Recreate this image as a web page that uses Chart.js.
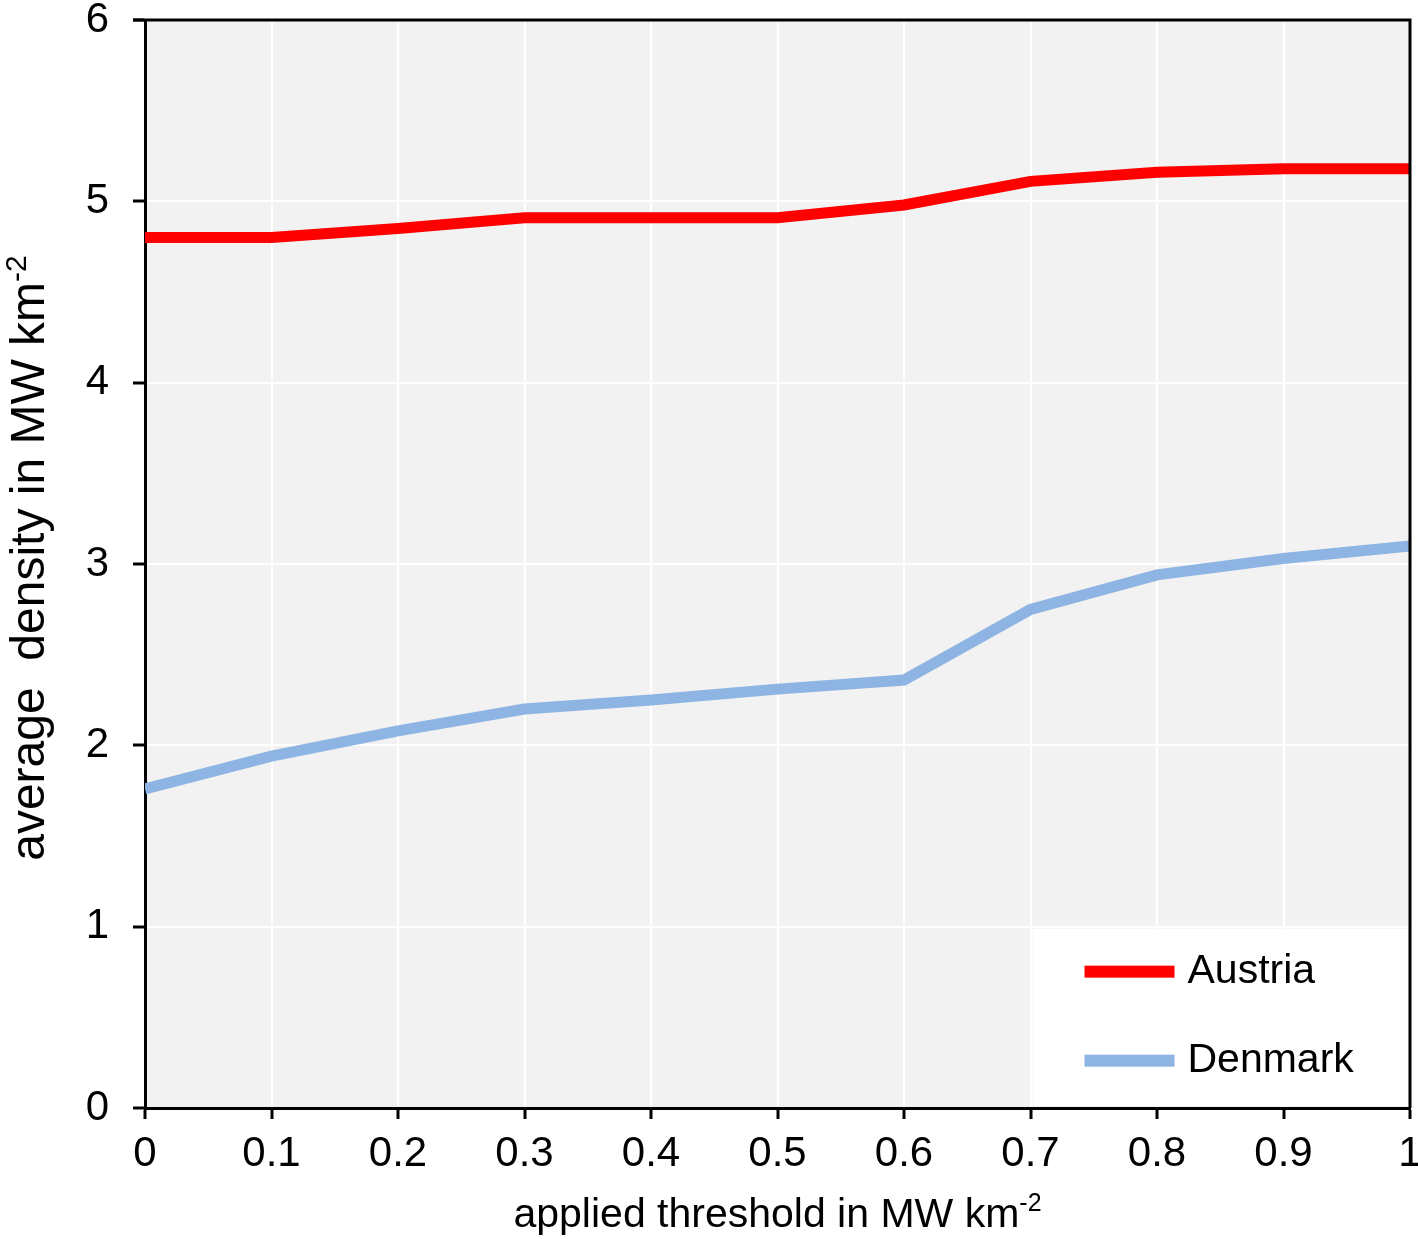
<!DOCTYPE html>
<html>
<head>
<meta charset="utf-8">
<script src="https://cdn.jsdelivr.net/npm/chart.js@4.4.0/dist/chart.umd.min.js"></script>
<style>
  html, body { margin: 0; padding: 0; background: #fff; }
  #wrap { width: 1418px; height: 1239px; }
</style>
</head>
<body>
<div id="wrap"><canvas id="linechart"></canvas></div>
<script>
// values
var thresholds = [0, 0.1, 0.2, 0.3, 0.4, 0.5, 0.6, 0.7, 0.8, 0.9, 1];
var austria = [4.80, 4.80, 4.85, 4.91, 4.91, 4.91, 4.98, 5.11, 5.16, 5.18, 5.18];
var denmark = [1.76, 1.94, 2.08, 2.20, 2.25, 2.31, 2.36, 2.75, 2.94, 3.03, 3.10];
var xTickLabels = ['0', '0.1', '0.2', '0.3', '0.4', '0.5', '0.6', '0.7', '0.8', '0.9', '1'];
var yTickLabels = ['0', '1', '2', '3', '4', '5', '6'];

var FONT = '"Liberation Sans", Arial, sans-serif';

function pts(vals) {
    return vals.map(function (v, i) { return { x: thresholds[i], y: v }; });
}

// draws text with a raised "-2" after it
function drawSup(ctx, base, sup, x, y, size, align) {
    ctx.font = size + 'px ' + FONT;
    var wb = ctx.measureText(base).width;
    ctx.font = Math.round(size * 0.62) + 'px ' + FONT;
    var ws = ctx.measureText(sup).width;
    var start = align === 'center' ? x - (wb + ws) / 2 : x;
    ctx.textAlign = 'left';
    ctx.textBaseline = 'alphabetic';
    ctx.font = size + 'px ' + FONT;
    ctx.fillText(base, start, y);
    ctx.font = Math.round(size * 0.62) + 'px ' + FONT;
    ctx.fillText(sup, start + wb, y - size * 0.38);
}

var plotDeco = {
    id: 'plotDeco',
    beforeDraw: function (chart) {
        var a = chart.chartArea, ctx = chart.ctx;
        ctx.save();
        ctx.fillStyle = '#f2f2f2';
        ctx.fillRect(a.left, a.top, a.right - a.left, a.bottom - a.top);
        ctx.restore();
    },
    afterDatasetsDraw: function (chart) {
        var a = chart.chartArea, ctx = chart.ctx;
        var xs = chart.scales.x, ys = chart.scales.y;
        ctx.save();
        // legend box in lower right corner
        var bx = xs.getPixelForValue(0.7) + 2, by = ys.getPixelForValue(1) + 2;
        ctx.fillStyle = '#ffffff';
        ctx.fillRect(bx, by, a.right - bx - 2, a.bottom - by - 2);
        var rows = [by + 43, by + 132];
        chart.data.datasets.forEach(function (ds, i) {
            ctx.fillStyle = ds.borderColor;
            ctx.fillRect(bx + 52, rows[i] - 6, 90, 12);
            ctx.fillStyle = '#000';
            ctx.font = '41px ' + FONT;
            ctx.textAlign = 'left';
            ctx.textBaseline = 'middle';
            ctx.fillText(ds.label, bx + 155, rows[i]);
        });
        // top and right frame
        ctx.strokeStyle = '#000';
        ctx.lineWidth = 3;
        ctx.beginPath();
        ctx.moveTo(a.left - 12, a.top);
        ctx.lineTo(a.right, a.top);
        ctx.lineTo(a.right, a.bottom);
        ctx.stroke();
        // axis titles
        ctx.fillStyle = '#000';
        drawSup(ctx, 'applied threshold in MW km', '-2', (a.left + a.right) / 2, 1227, 41, 'center');
        ctx.translate(44, 558);
        ctx.rotate(-Math.PI / 2);
        drawSup(ctx, 'average  density in MW km', '-2', 0, 0, 48, 'center');
        ctx.restore();
    }
};

var ctx = document.getElementById('linechart').getContext('2d');
var myChart = new Chart(ctx, {
    type: 'line',
    data: {
        datasets: [{
            label: 'Austria',
            data: pts(austria),
            borderColor: '#ff0000',
            borderWidth: 11,
            pointRadius: 0,
            tension: 0
        }, {
            label: 'Denmark',
            data: pts(denmark),
            borderColor: '#8db4e2',
            borderWidth: 11,
            pointRadius: 0,
            tension: 0
        }]
    },
    options: {
        responsive: true,
        maintainAspectRatio: false,
        animation: false,
        events: [],
        layout: { padding: { top: 20, right: 8, left: 0, bottom: 0 } },
        plugins: {
            legend: { display: false },
            tooltip: { enabled: false }
        },
        scales: {
            x: {
                type: 'linear',
                min: 0,
                max: 1,
                afterFit: function (s) {
                    s.height = 131;
                    s.paddingLeft = 0;
                    s.paddingRight = 0;
                },
                afterBuildTicks: function (s) {
                    s.ticks = thresholds.map(function (v) { return { value: v }; });
                },
                ticks: {
                    color: '#000',
                    font: { family: FONT, size: 42 },
                    padding: 10,
                    maxRotation: 0,
                    autoSkip: false,
                    callback: function (v, i) { return xTickLabels[i]; }
                },
                grid: { color: '#ffffff', lineWidth: 2, tickColor: '#000', tickLength: 11, tickWidth: 3 },
                border: { color: '#000', width: 3 }
            },
            y: {
                min: 0,
                max: 6,
                afterFit: function (s) {
                    s.width = 145;
                    s.paddingTop = 0;
                    s.paddingBottom = 0;
                },
                ticks: {
                    stepSize: 1,
                    color: '#000',
                    font: { family: FONT, size: 42 },
                    padding: 24,
                    callback: function (v, i) { return yTickLabels[i]; }
                },
                grid: { color: '#ffffff', lineWidth: 2, tickColor: '#000', tickLength: 12, tickWidth: 3 },
                border: { color: '#000', width: 3 }
            }
        }
    },
    plugins: [plotDeco]
});
</script>
</body>
</html>
